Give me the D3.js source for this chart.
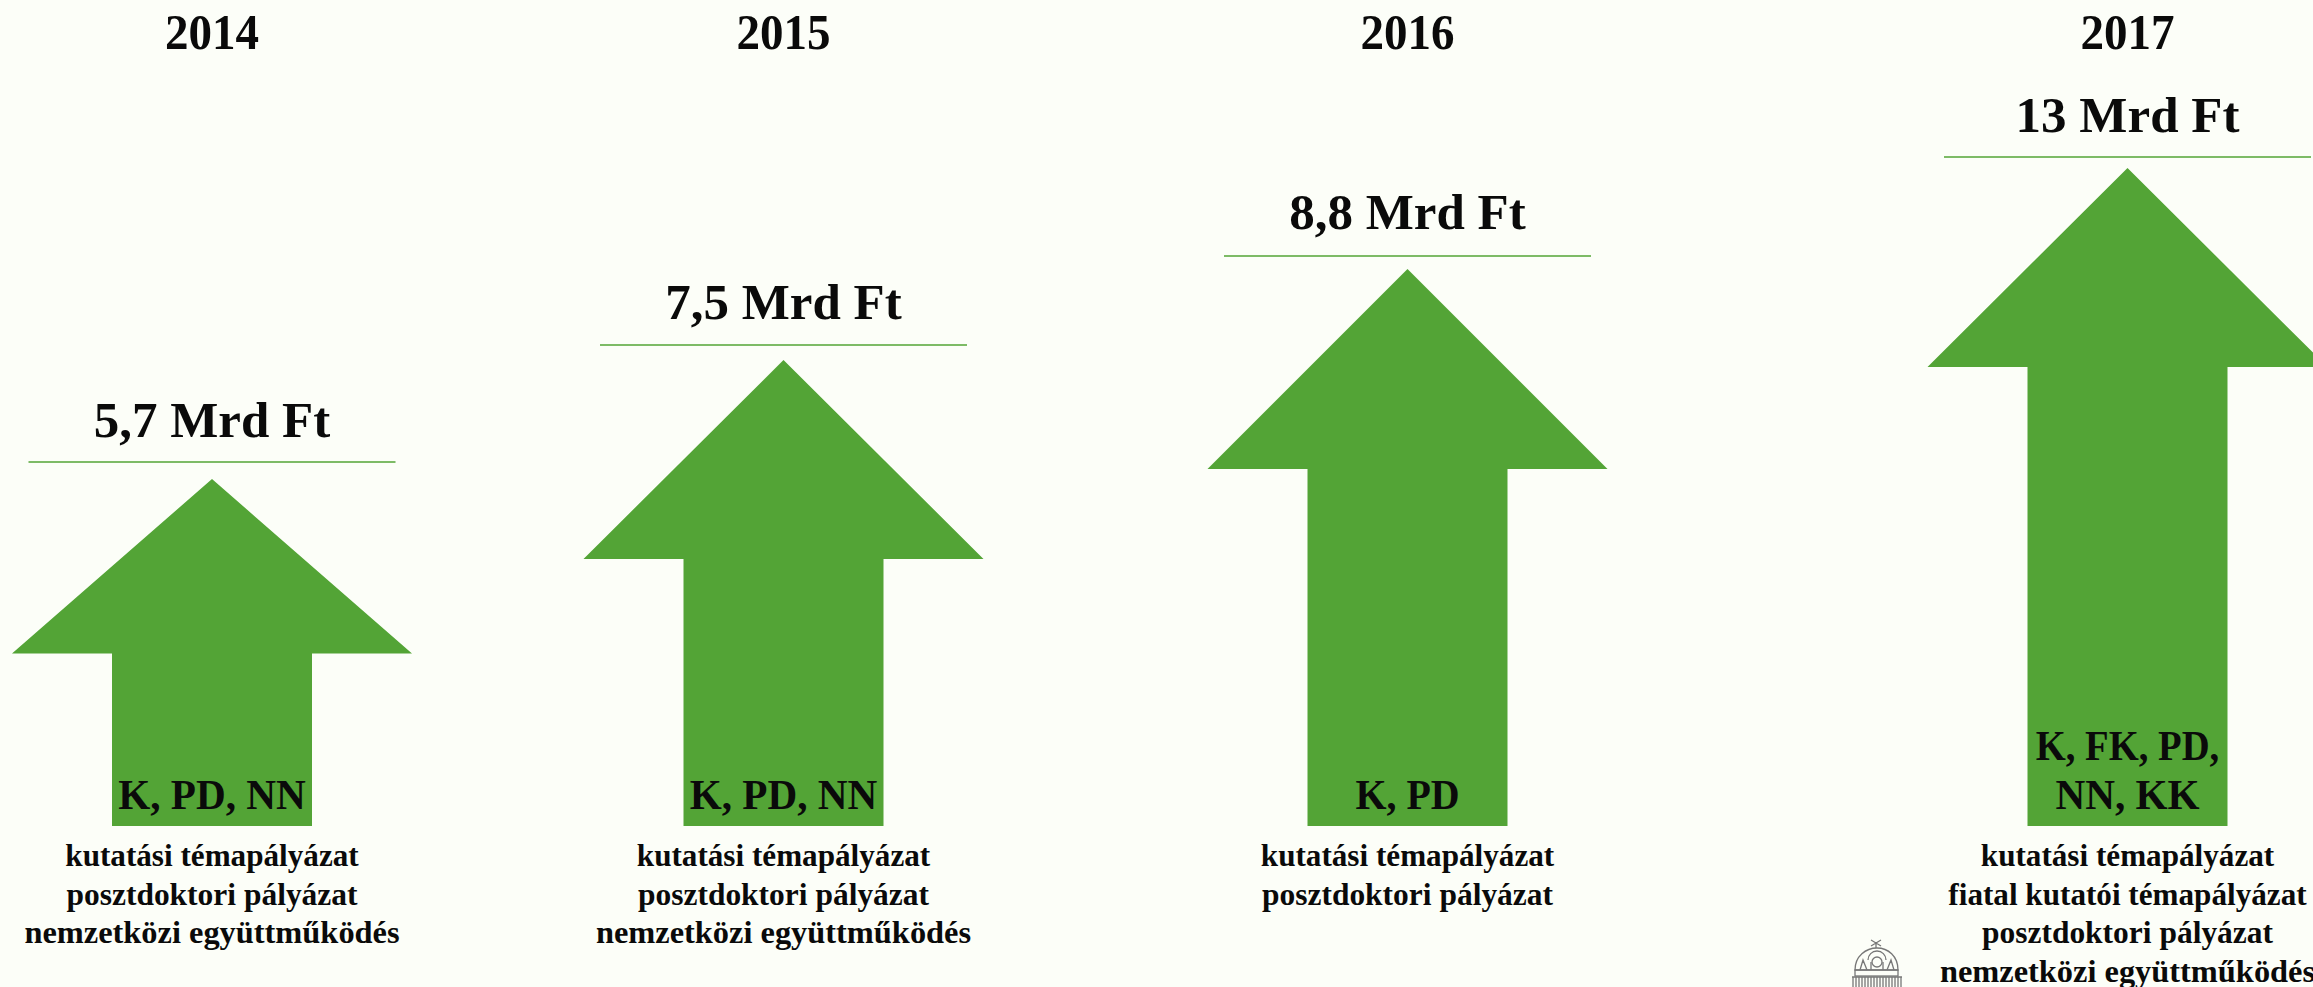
<!DOCTYPE html>
<html><head><meta charset="utf-8">
<script src="https://cdnjs.cloudflare.com/ajax/libs/d3/7.8.5/d3.min.js"></script>
<style>html,body{margin:0;padding:0;background:#fcfef8;overflow:hidden}
text{font-family:"Liberation Serif",serif;fill:#0a0a0a;text-anchor:middle}</style>
</head><body><svg id="c" width="2313" height="987"></svg>
<script>
const years = ["2014","2015","2016","2017"];
const amounts = [5.7,7.5,8.8,13];
const amountLabels = ["5,7 Mrd Ft","7,5 Mrd Ft","8,8 Mrd Ft","13 Mrd Ft"];
const codes = [["K, PD, NN"],["K, PD, NN"],["K, PD"],["K, FK, PD,","NN, KK"]];
const programmes = [
 ["kutatási témapályázat","posztdoktori pályázat","nemzetközi együttműködés"],
 ["kutatási témapályázat","posztdoktori pályázat","nemzetközi együttműködés"],
 ["kutatási témapályázat","posztdoktori pályázat"],
 ["kutatási témapályázat","fiatal kutatói témapályázat","posztdoktori pályázat","nemzetközi együttműködés"]
];
const GREEN="#53a436";
const x=d3.scaleOrdinal().domain(years).range([212,783.5,1407.5,2127.5]);
// The source's arrows are not strictly proportional: piecewise scale follows the picture
const y=d3.scaleLinear().domain([0,5.7,7.5,8.8,13]).range([826,479,360,269,168]);
const headH=d3.scaleOrdinal().domain(years).range([174.5,199,200,199]);
const ruleGap=d3.scaleOrdinal().domain(years).range([17,15,13,11]);
const labelGap=d3.scaleOrdinal().domain(years).range([25,26,27,25]);
const progStretch=d3.scaleOrdinal().domain(["kutatási témapályázat","posztdoktori pályázat","nemzetközi együttműködés","fiatal kutatói témapályázat"]).range([1.005,1.015,1.045,1.005]);
const codeStretch=d3.scaleOrdinal().domain(["K, PD, NN","K, PD","K, FK, PD,","NN, KK"]).range([0.98,0.95,0.92,0.98]);
const svg=d3.select("#c");
const line=d3.line();
function fit(sel,ratio){sel.each(function(){const w=this.getComputedTextLength();
  d3.select(this).attr("textLength",w*ratio).attr("lengthAdjust","spacingAndGlyphs");});}
const ruleY=(d,i)=>y(amounts[i])-ruleGap(d);
const g=svg.selectAll("g.yr").data(years).join("g").attr("class","yr");
g.append("path").attr("fill",GREEN).attr("d",(d,i)=>{
  const c=x(d),t=y(amounts[i]),b=y(0),h=t+headH(d);
  return line([[c,t],[c+200,h],[c+100,h],[c+100,b],[c-100,b],[c-100,h],[c-200,h]])+"Z";});
g.append("line").attr("x1",d=>x(d)-183.5).attr("x2",d=>x(d)+183.5)
 .attr("y1",ruleY).attr("y2",ruleY)
 .attr("stroke",GREEN).attr("stroke-width",1.5);
g.append("text").attr("x",d=>x(d)).attr("y",49).attr("font-size",50).attr("font-weight",700).text(d=>d).call(fit,0.94);
g.append("text").attr("x",d=>x(d)).attr("y",(d,i)=>ruleY(d,i)-labelGap(d)).attr("font-size",50).attr("font-weight",700)
 .text((d,i)=>amountLabels[i]).call(fit,1.02);
g.each(function(d,i){
  const n=codes[i].length, s=d3.select(this);
  codes[i].forEach((t,j)=>{const el=s.append("text").attr("x",x(d)).attr("y",809-(n-1-j)*49)
    .attr("font-size",42).attr("font-weight",700).text(t);
    fit(el,codeStretch(t));});
  programmes[i].forEach((t,j)=>{const el=s.append("text").attr("x",x(d)).attr("y",866+j*38.6)
    .attr("font-size",31).attr("font-weight",700).text(t);
    fit(el,progStretch(t));});
});
// emblem
const e=svg.append("g").attr("fill","none").attr("stroke","#777").attr("stroke-width",1.3);
e.append("path").attr("d","M1855 970C1855 956 1866 948 1877 948C1888 948 1898 956 1898 970Z");
e.append("path").attr("d","M1876 948V942M1871 940L1881 946M1881 940L1871 946");
e.append("path").attr("d","M1860 970L1863 960L1867 970M1871 970V962M1883 970V962M1887 970L1891 960L1894 970M1868 960a9 9 0 0 1 18 0");
e.append("circle").attr("cx",1877).attr("cy",962).attr("r",5);
e.append("rect").attr("x",1855).attr("y",970).attr("width",43).attr("height",6);
e.append("path").attr("d",d3.range(1853,1903,3).map(v=>`M${v} 977V987`).join(""));
e.append("path").attr("d","M1852 977H1902");
</script></body></html>
